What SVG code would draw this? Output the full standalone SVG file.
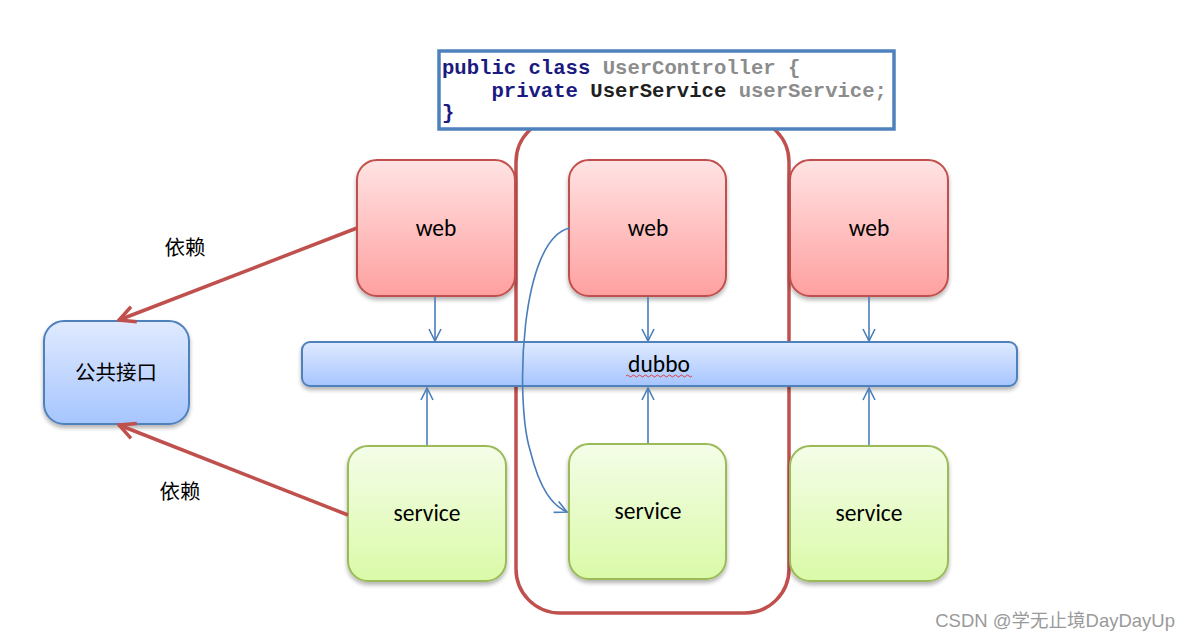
<svg xmlns="http://www.w3.org/2000/svg" width="1190" height="641" viewBox="0 0 1190 641">
  <style>
    .web { fill: url(#gWeb); stroke: #C0504D; stroke-width: 2; filter: url(#shadow); }
    .svc { fill: url(#gSvc); stroke: #9BBB59; stroke-width: 2; filter: url(#shadow); }
    .blue { fill: url(#gBlue); stroke: #4F81BD; stroke-width: 2; filter: url(#shadow); }
    .lbl { font-family: "Calibri", "Carlito", "Liberation Sans", "Noto Sans CJK SC", sans-serif; font-size: 23.5px; fill: #000; text-anchor: middle; }
    .cjk { font-family: "Noto Sans CJK SC", sans-serif; font-size: 20.5px; fill: #000; text-anchor: middle; }
    .flow { fill: none; stroke: #4A7EBB; stroke-width: 1.6; marker-end: url(#openBlue); }
    .dep { fill: none; stroke: #C0504D; stroke-width: 3.5; marker-end: url(#openRed); }
    .code { font-family: "Liberation Mono", "Courier New", monospace; font-size: 20.6px; font-weight: bold; }
    .kw { fill: #1A1A80; }
    .ty { fill: #1F1F1F; }
    .gr { fill: #8C8C8C; }
  </style>
  <defs>
    <linearGradient id="gWeb" x1="0" y1="0" x2="0" y2="1">
      <stop offset="0" stop-color="#FFE3E3"/>
      <stop offset="1" stop-color="#FFA0A0"/>
    </linearGradient>
    <linearGradient id="gSvc" x1="0" y1="0" x2="0" y2="1">
      <stop offset="0" stop-color="#F4FDE8"/>
      <stop offset="1" stop-color="#DAFAA8"/>
    </linearGradient>
    <linearGradient id="gBlue" x1="0" y1="0" x2="0" y2="1">
      <stop offset="0" stop-color="#E0EAFF"/>
      <stop offset="1" stop-color="#A6C5FE"/>
    </linearGradient>
    <filter id="shadow" x="-10%" y="-10%" width="130%" height="140%">
      <feGaussianBlur in="SourceAlpha" stdDeviation="2"/>
      <feOffset dx="0" dy="3" result="b"/>
      <feComponentTransfer><feFuncA type="linear" slope="0.3"/></feComponentTransfer>
      <feMerge><feMergeNode/><feMergeNode in="SourceGraphic"/></feMerge>
    </filter>
    <marker id="openBlue" viewBox="0 0 14 14" refX="13" refY="7" markerWidth="14" markerHeight="14" markerUnits="userSpaceOnUse" orient="auto">
      <path d="M1,1 L13,7 L1,13" fill="none" stroke="#4A7EBB" stroke-width="1.6"/>
    </marker>
    <marker id="openRed" viewBox="0 0 20 20" refX="18" refY="10" markerWidth="20" markerHeight="20" markerUnits="userSpaceOnUse" orient="auto">
      <path d="M2,2 L18,10 L2,18" fill="none" stroke="#C0504D" stroke-width="3.5"/>
    </marker>
  </defs>

  <rect width="1190" height="641" fill="#FFFFFF"/>

  <!-- remote call boundary -->
  <rect id="boundary" x="516" y="118" width="273" height="495" rx="44" fill="none" stroke="#C0504D" stroke-width="3.5"/>

  <!-- code snippet -->
  <g id="code">
    <rect x="439" y="51" width="455" height="78" fill="#FFFFFF" stroke="#4F81BD" stroke-width="3.5"/>
    <text class="code" x="442" y="74"><tspan class="kw">public class </tspan><tspan class="gr">UserController {</tspan></text>
    <text class="code" x="442" y="97" xml:space="preserve"><tspan class="kw">    private </tspan><tspan class="ty">UserService </tspan><tspan class="gr">userService;</tspan></text>
    <text class="code kw" x="442" y="119">}</text>
  </g>

  <g id="web1"><rect class="web" x="357" y="160" width="158" height="136" rx="20"/><text class="lbl" x="436" y="236">web</text></g>
  <g id="web2"><rect class="web" x="569" y="160" width="157" height="136" rx="20"/><text class="lbl" x="648" y="236">web</text></g>
  <g id="web3"><rect class="web" x="790" y="160" width="158" height="136" rx="20"/><text class="lbl" x="869" y="236">web</text></g>

  <g id="dubbo">
    <rect class="blue" x="302" y="342" width="715" height="44" rx="8"/>
    <text class="lbl" x="659" y="372">dubbo</text>
    <path d="M626,376 q1.5,-2 3,0 t3,0 t3,0 t3,0 t3,0 t3,0 t3,0 t3,0 t3,0 t3,0 t3,0 t3,0 t3,0 t3,0 t3,0 t3,0 t3,0 t3,0 t3,0 t3,0 t3,0 t3,0" fill="none" stroke="#E03030" stroke-width="0.9"/>
  </g>

  <g id="svc1"><rect class="svc" x="348" y="446" width="158" height="135" rx="20"/><text class="lbl" x="427" y="521">service</text></g>
  <g id="svc2"><rect class="svc" x="569" y="444" width="157" height="135" rx="20"/><text class="lbl" x="648" y="519">service</text></g>
  <g id="svc3"><rect class="svc" x="790" y="446" width="158" height="135" rx="20"/><text class="lbl" x="869" y="521">service</text></g>

  <g id="api"><rect class="blue" x="44" y="321" width="145" height="103" rx="20"/><text class="cjk" x="116" y="380">公共接口</text></g>

  <g id="connectors">
    <line class="flow" x1="435" y1="297" x2="435" y2="341"/>
    <line class="flow" x1="648" y1="297" x2="648" y2="341"/>
    <line class="flow" x1="869" y1="297" x2="869" y2="341"/>
    <line class="flow" x1="427" y1="445" x2="427" y2="388"/>
    <line class="flow" x1="648" y1="443" x2="648" y2="388"/>
    <line class="flow" x1="869" y1="445" x2="869" y2="388"/>
    <path class="flow" d="M570,228 C520,238 515,400 530,450 C540,490 552,505 567,512"/>
    <line class="dep" x1="357" y1="228" x2="119" y2="320"/>
    <line class="dep" x1="348" y1="515" x2="119" y2="425"/>
    <text class="cjk" x="185" y="255">依赖</text>
    <text class="cjk" x="180" y="499">依赖</text>
  </g>

  <text x="1175" y="627" text-anchor="end" font-family="Liberation Sans, Noto Sans CJK SC, sans-serif" font-size="18.5" fill="#9A9A9A">CSDN @学无止境DayDayUp</text>
</svg>
